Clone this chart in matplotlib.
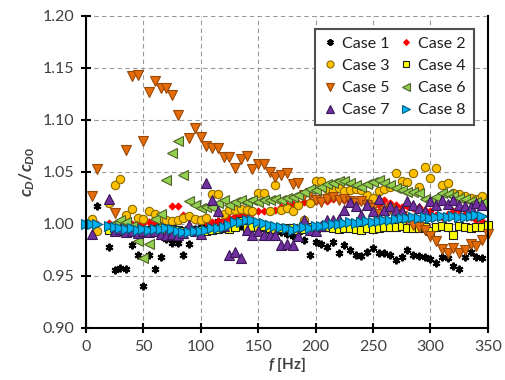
import numpy as np
import matplotlib
matplotlib.use("Agg")
import matplotlib.pyplot as plt

plt.rcParams['font.family'] = ['Lato', 'DejaVu Sans']
plt.rcParams['mathtext.fontset'] = 'custom'
plt.rcParams['mathtext.rm'] = 'Lato:bold'
plt.rcParams['mathtext.it'] = 'Lato:bold:italic'

nan = np.nan
# frequency grid [Hz]
freq = np.arange(0, 351, 5)

case1 = [nan, nan, 1.017, nan, 0.978, 0.956, 0.958, 0.957, 0.980, 0.970,
         0.940, 0.970, 0.957, 0.968, 0.986, 0.982, 0.982, 0.970, 0.981, 0.995,
         0.997, 0.998, 1.000, 1.003, 0.998, 0.996, 0.997, 0.998, 0.999, 0.997,
         0.996, 0.995, 0.993, 0.994, 0.992, 0.990, 0.988, 0.992, 0.985, 0.970,
         0.983, 0.981, 0.978, 0.983, 0.972, 0.980, 0.975, 0.970, 0.969, 0.973,
         0.977, 0.972, 0.972, 0.970, 0.965, 0.968, 0.975, 0.970, 0.969, 0.968,
         0.966, 0.962, 0.968, 0.967, 0.960, 0.957, 0.968, 0.973, 0.968, 0.967,
         nan]
case2 = [1.000, 1.001, 1.000, nan, 1.001, 1.000, 1.002, 1.001, 1.000, 1.001,
         1.001, 1.002, 1.001, 1.003, 1.004, 1.017, 1.017, 1.009, 1.006, 1.005,
         1.004, 1.002, 1.002, 1.003, 1.004, 1.006, 1.008, 1.009, 1.010, 1.011,
         1.012, 1.012, 1.012, 1.013, 1.016, 1.018, 1.019, 1.020, 1.021, 1.022,
         1.022, 1.023, 1.022, 1.024, 1.025, 1.023, 1.022, 1.020, 1.022, 1.019,
         1.021, 1.018, 1.023, 1.020, 1.018, 1.016, 1.017, 1.015, 1.016, 1.013,
         1.012, 1.009, 1.007, 1.010, 1.012, 1.013, 1.010, 1.007, 1.004, 1.003,
         nan]
case3 = [nan, 1.005, 0.993, nan, 1.020, 1.037, 1.043, 1.009, 1.014, 1.006,
         1.005, 1.012, 1.010, 1.006, 1.004, 1.003, 1.004, 1.006, 1.008, 1.005,
         1.004, 1.006, 1.029, 1.029, 1.010, 1.013, 1.013, 1.014, 1.013, 1.012,
         1.030, 1.030, 1.012, 1.037, 1.013, 1.015, 1.012, 1.018, 1.004, 1.020,
         1.041, 1.041, 1.034, 1.033, 1.035, 1.032, 1.033, 1.034, 1.033, 1.028,
         1.025, 1.032, 1.034, 1.036, 1.049, 1.041, 1.040, 1.049, 1.036, 1.055,
         1.044, 1.054, 1.037, 1.039, 1.030, 1.029, 1.027, 1.025, 1.024, 1.027,
         nan]
case4 = [nan, nan, nan, nan, 0.994, 0.994, 0.993, 0.994, 0.993, 0.994,
         0.993, 0.994, 0.995, 0.996, 0.994, 0.995, 0.994, 0.993, 0.994, 0.993,
         0.994, 0.993, 0.994, 0.995, 0.996, 0.995, 0.997, 1.003, 0.996, 0.997,
         0.997, 0.998, 0.996, 0.995, 0.996, 0.996, 0.996, 0.994, 0.995, 0.997,
         0.996, 0.997, 0.997, 0.996, 0.995, 0.996, 0.996, 0.995, 0.994, 0.996,
         0.995, 0.996, 0.997, 0.997, 0.997, 0.998, 0.996, 0.996, 0.996, 0.997,
         0.993, 0.997, 0.998, 0.997, 0.989, 0.998, 0.997, 0.996, 0.997, 0.997,
         0.999]
case5 = [nan, 1.027, 1.053, nan, nan, 1.011, nan, 1.071, 1.142, 1.143,
         1.080, 1.127, 1.137, 1.131, 1.131, 1.124, 1.105, nan, 1.083, 1.092,
         1.084, 1.075, 1.073, 1.073, 1.064, 1.064, 1.054, 1.062, 1.065, 1.053,
         1.058, 1.058, 1.050, 1.045, 1.047, 1.049, 1.038, 1.039, 1.028, 1.030,
         1.023, 1.021, 1.024, 1.026, 1.023, 1.024, 1.022, 1.020, 1.022, 1.018,
         1.015, 1.010, 1.012, 1.014, 1.010, 1.008, 1.005, 0.999, 0.997, 0.994,
         0.988, 0.984, 0.976, 0.972, 0.977, 0.972, 0.975, 0.981, 0.979, 0.985,
         0.990]
case6 = [nan, nan, nan, nan, 0.998, 1.000, 1.004, 1.002, 0.998, 0.984,
         0.967, 0.981, 1.005, 1.010, 1.042, 1.068, 1.080, 1.047, 1.022, 1.018,
         1.015, 1.016, 1.016, 1.020, 1.023, 1.018, 1.021, 1.023, 1.021, 1.023,
         1.021, 1.023, 1.023, 1.024, 1.023, 1.025, 1.026, 1.028, 1.031, 1.034,
         1.033, 1.036, 1.038, 1.039, 1.041, 1.041, 1.039, 1.037, 1.036, 1.038,
         1.040, 1.042, 1.039, 1.037, 1.035, 1.033, 1.031, 1.031, 1.030, 1.024,
         1.022, 1.026, 1.030, 1.029, 1.027, 1.025, 1.024, 1.022, 1.021, 1.020,
         nan]
case7 = [nan, 0.990, nan, nan, 1.024, 0.993, 0.995, 0.992, 0.993, 0.991,
         0.993, 0.992, 0.993, 0.990, 0.989, 0.990, 0.989, 0.991, 0.999, 0.993,
         0.990, 1.039, 1.023, 1.012, 0.998, 0.970, 0.973, 0.967, 0.994, 0.989,
         0.993, 0.989, 0.989, 0.989, 0.980, 0.981, 0.980, 0.988, 1.004, 0.994,
         0.993, 0.998, 1.004, 1.004, 1.005, 1.013, 1.021, 1.017, 1.009, 1.018,
         1.012, 1.024, 1.013, 1.017, 1.013, 1.012, 1.022, 1.018, 1.015, 1.012,
         1.022, 1.018, 1.023, 1.019, 1.023, 1.018, 1.017, 1.016, 1.020, 1.018,
         nan]
case8 = [1.000, 1.000, 1.000, nan, 0.998, 0.997, 0.996, 0.995, 0.996, 0.994,
         0.995, 0.994, 0.995, 0.995, 0.996, 0.995, 0.993, 0.992, 0.992, 0.993,
         0.993, 0.994, 0.996, 0.996, 0.997, 0.999, 1.002, 1.002, 1.004, 1.004,
         1.002, 1.001, 0.999, 0.998, 0.997, 0.996, 0.994, 0.996, 0.997, 0.996,
         0.998, 0.998, 0.999, 1.000, 1.000, 1.001, 1.002, 1.001, 1.002, 1.003,
         1.002, 1.003, 1.004, 1.004, 1.005, 1.006, 1.006, 1.007, 1.006, 1.007,
         1.006, 1.007, 1.008, 1.007, 1.008, 1.007, 1.007, 1.008, 1.009, 1.008,
         nan]

labels = ['Case 1', 'Case 2', 'Case 3', 'Case 4',
          'Case 5', 'Case 6', 'Case 7', 'Case 8']
series = [case1, case2, case3, case4, case5, case6, case7, case8]

# marker, size, face, edge
styles = [
    ((6, 2, 0), 5.5, 'black', 'black'),
    ('D', 3.5, '#FF0000', '#FF0000'),
    ('o', 6, '#FFC000', '#8A6A00'),
    ('s', 5.5, '#FFFF00', '#202020'),
    ('v', 7, '#E46C0A', '#984807'),
    ('<', 7, '#92D050', '#4F6228'),
    ('^', 7.5, '#7030A0', '#3A1858'),
    ('>', 7, '#00B0F0', '#00607F'),
]

fig = plt.figure(figsize=(5.05, 3.80), dpi=100)
ax = fig.add_axes([0.170, 0.137, 0.796, 0.821])

handles = []
for y, lab, (m, ms, fc, ec) in zip(series, labels, styles):
    h, = ax.plot(freq, y, linestyle='none', marker=m, markersize=ms,
                 markerfacecolor=fc, markeredgecolor=ec,
                 markeredgewidth=1.5 if m == (6, 2, 0) else 0.8,
                 label=lab, clip_on=False)
    handles.append(h)

ax.set_xlim(0, 350)
ax.set_ylim(0.90, 1.20)
ax.set_xticks(np.arange(0, 351, 50))
ax.set_yticks(np.arange(0.90, 1.201, 0.05))
ax.yaxis.set_major_formatter(matplotlib.ticker.FormatStrFormatter('%.2f'))

ax.grid(True, color='#9a9a9a', linestyle=(0, (4, 3)), linewidth=0.8)
ax.set_axisbelow(True)

for s in ['left', 'bottom', 'right']:
    ax.spines[s].set_linewidth(1.5)
    ax.spines[s].set_color('black')
ax.spines['top'].set_visible(False)

ax.tick_params(direction='inout', length=7, width=1.5, labelsize=11.5,
               labelcolor='#404040', pad=5)

ax.set_xlabel(r'$f$ [Hz]', fontsize=11, fontweight='bold', labelpad=1,
              color='#404040')
ax.set_ylabel(r'$c_D/c_{D0}$', fontsize=12.5, color='#404040', labelpad=4)

order = [0, 2, 4, 6, 1, 3, 5, 7]
leg = ax.legend([handles[i] for i in order], [labels[i] for i in order],
                ncol=2, loc='upper right', bbox_to_anchor=(0.985, 0.985),
                fontsize=11.5, frameon=True, fancybox=False, framealpha=1,
                edgecolor='#505050', handletextpad=0.3, columnspacing=0.6,
                labelspacing=0.5, borderpad=0.5, handlelength=0.9,
                markerscale=0.85)
leg.get_frame().set_linewidth(1.5)
for t in leg.get_texts():
    t.set_color('#202020')

fig.savefig('out.png', dpi=100)
